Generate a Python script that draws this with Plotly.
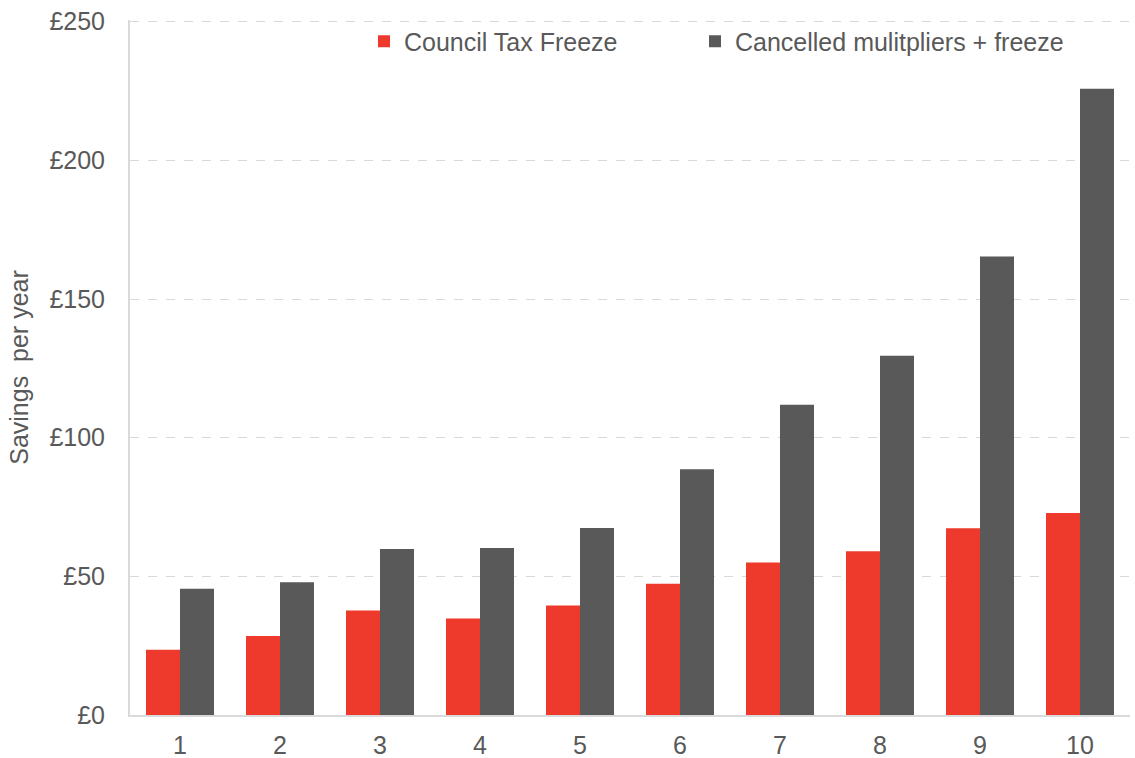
import plotly.graph_objects as go

deciles = ['1', '2', '3', '4', '5', '6', '7', '8', '9', '10']
freeze = [23.5, 28.5, 37.7, 34.8, 39.5, 47.3, 55.0, 59.0, 67.3, 72.8]
cancelled = [45.5, 47.9, 59.9, 60.2, 67.4, 88.6, 111.9, 129.5, 165.3, 225.8]
y_ticks = [0, 50, 100, 150, 200, 250]
y_labels = ['£0', '£50', '£100', '£150', '£200', '£250']

fig = go.Figure()
fig.add_trace(go.Bar(x=deciles, y=freeze, name='Council Tax Freeze',
                     marker=dict(color='#ee3a2c', line=dict(width=0)), legend='legend'))
fig.add_trace(go.Bar(x=deciles, y=cancelled, name='Cancelled mulitpliers + freeze',
                     marker=dict(color='#595959', line=dict(width=0)), legend='legend2'))

legend_style = dict(orientation='h', y=1.002, xanchor='left', yanchor='top',
                    font=dict(size=25, color='#595959'),
                    bgcolor='rgba(0,0,0,0)', itemwidth=30)

fig.update_layout(
    width=1135, height=758,
    margin=dict(l=130, r=5, t=20, b=43, autoexpand=False),
    plot_bgcolor='white', paper_bgcolor='white',
    font=dict(family='Liberation Sans, Arial, sans-serif', color='#595959', size=25),
    barmode='group', bargap=0.32, bargroupgap=0,
    showlegend=True,
    legend=dict(x=0.234, **legend_style),
    legend2=dict(x=0.565, **legend_style),
    xaxis=dict(showline=True, linecolor='#d9d9d9', linewidth=2,
               ticks='outside', ticklen=7, tickcolor='white',
               tickfont=dict(size=25), showgrid=False),
    # a little headroom so the £250 gridline is not clipped at the top edge
    yaxis=dict(range=[0, 250.6], tickvals=y_ticks, ticktext=y_labels,
               showgrid=True, gridcolor='#d9d9d9', griddash='dash', gridwidth=1,
               showline=True, linecolor='#d9d9d9', linewidth=2, zeroline=False,
               tickfont=dict(size=25), ticks='outside', ticklen=18, tickcolor='white',
               title=dict(text='Savings  per year', font=dict(size=25, color='#595959'),
                          standoff=14)),
)

# drop the default 8px page margin so the figure fills the window exactly
fig.write_html("out.html", config={'displayModeBar': False},
               post_script="document.body.style.margin='0';")
